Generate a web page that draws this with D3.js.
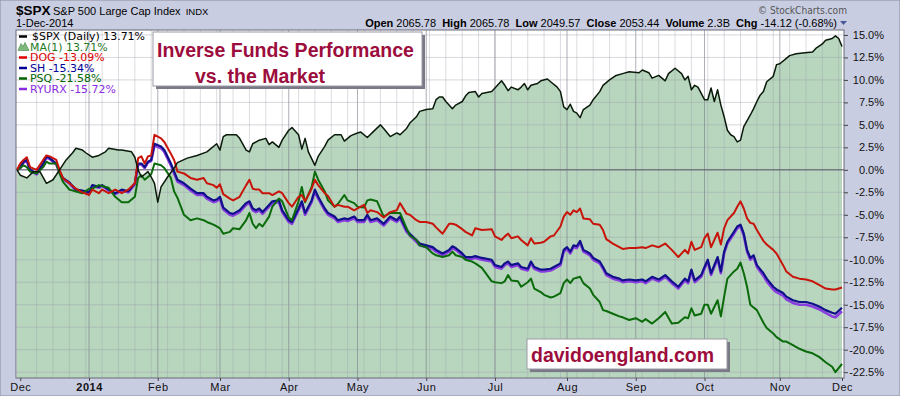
<!DOCTYPE html>
<html>
<head>
<meta charset="utf-8">
<script src="https://d3js.org/d3.v7.min.js"></script>
<style>
body { margin: 0; background: #c9cde2; }
svg { display: block; font-family: "Liberation Sans", Arial, sans-serif; }
</style>
</head>
<body>
<svg id="chart"></svg>
<script>
// x = trading day since 29-Nov-2013 close, y = % change from that close
const spx = [[0,0],[1,-0.6],[3,-0.9],[5,-0.2],[7,-0.2],[9,-1.5],[11,-1.1],[13,0],[15,1.1],[17,1.9],[18,2.4],[20,2.2],[21,1.9],[23,1.4],[25,1.6],[27,2.0],[28,2.4],[31,2.2],[32,2.2],[35,2.0],[36,1.4],[37,0],[38,-0.8],[40,-0.2],[41,-0.8],[42,-1.5],[43,-3.6],[44,-1.9],[46,-0.8],[48,0.2],[49,0.8],[52,1.3],[55,1.6],[58,2.0],[61,2.9],[62,2.2],[63,3.7],[64,3.9],[67,3.9],[68,3.5],[70,2.2],[71,2.0],[72,2.9],[74,3.3],[76,3.5],[77,2.8],[78,3.1],[80,2.5],[81,3.3],[83,4.4],[84,4.7],[86,3.9],[87,2.3],[88,3.5],[89,2.0],[91,0.5],[92,1.5],[94,2.6],[95,3.3],[97,3.9],[99,3.9],[100,3.2],[102,3.8],[104,4.1],[105,4.2],[107,3.6],[109,4.3],[111,5.0],[112,4.6],[114,3.7],[116,4.1],[117,3.9],[119,4.6],[120,5.2],[122,5.9],[123,6.5],[125,6.7],[127,6.8],[128,7.8],[129,8.1],[130,8.1],[131,7.6],[133,6.8],[134,7.2],[136,7.6],[137,8.2],[138,8.6],[140,8.7],[141,8.1],[142,8.5],[145,8.7],[146,9.1],[148,9.9],[149,9.4],[150,8.8],[151,9.2],[153,8.9],[154,9.2],[155,9.6],[156,8.9],[157,9.4],[159,9.6],[160,9.9],[162,10.1],[163,9.8],[165,9.2],[166,8.7],[167,7.0],[168,6.7],[169,7.3],[170,6.5],[171,6.3],[172,5.8],[173,6.7],[175,7.2],[176,7.8],[178,8.7],[179,9.4],[181,10.0],[183,10.5],[185,10.7],[187,10.9],[190,10.8],[191,11.1],[193,10.8],[194,10.2],[196,10.5],[198,9.9],[199,10.7],[201,11.3],[203,10.7],[204,10.0],[205,10.4],[206,8.9],[207,9.4],[208,9.2],[210,7.8],[211,7.8],[212,9.1],[213,7.6],[214,8.9],[215,7.2],[216,5.9],[217,4.4],[218,3.9],[219,3.7],[220,3.1],[221,3.3],[222,4.8],[224,6.1],[225,6.8],[226,7.6],[227,8.3],[228,8.7],[229,9.8],[231,10.4],[232,11.7],[233,11.8],[235,12.4],[236,12.7],[238,12.9],[240,13.0],[243,13.1],[244,13.5],[246,14.0],[247,14.4],[249,14.6],[250,14.9],[251,14.6],[252,13.71]];

const fundDays = [0,1,2,3,4,6,8,9,10,12,
  13,14,16,18,20,22,23,25,26,28,
  30,32,34,36,37,38,39,40,41,42,
  44,45,47,48,49,51,53,55,57,58,
  60,61,62,63,65,66,68,70,71,72,
  73,74,75,77,78,80,81,83,84,86,
  87,88,90,91,92,94,95,97,98,100,
  101,103,104,106,107,108,110,112,114,116,
  117,119,120,122,123,125,127,128,130,132,
  133,134,136,137,139,140,142,145,146,148,
  149,150,151,153,154,156,157,158,160,161,
  163,164,166,167,168,169,170,171,172,173,
  175,176,178,179,180,182,184,185,187,189,
  191,192,194,196,198,200,202,204,205,206,
  207,209,210,211,212,214,215,216,217,219,
  220,221,222,223,224,225,226,228,229,231,
  232,234,235,237,239,241,243,245,247,249,
  250,252];

const dog = [0,0.7,1.1,1.4,0.3,0.0,1.1,1.6,1.5,1.1,
  0.0,-0.9,-1.5,-2.1,-2.5,-2.8,-2.2,-2.6,-2.2,-2.6,
  -2.2,-2.6,-2.2,-1.5,1.3,1.5,0.7,1.5,1.6,3.9,
  3.5,3.1,1.8,1.1,-0.2,-0.4,-0.9,-1.1,-0.9,-1.5,
  -1.7,-2.0,-1.6,-2.7,-3.2,-3.4,-3.0,-1.7,-1.1,-2.1,
  -2.2,-2.2,-2.6,-2.6,-2.8,-2.4,-2.6,-3.7,-4.1,-3.0,
  -2.8,-3.5,-2.1,-1.1,-1.7,-2.6,-2.9,-4.1,-3.9,-4.1,
  -4.1,-4.5,-4.3,-3.9,-4.8,-4.5,-4.7,-5.3,-4.7,-4.5,
  -3.7,-4.9,-5.0,-5.6,-5.8,-5.8,-6.0,-6.4,-7.1,-6.0,
  -6.0,-6.1,-6.6,-6.9,-7.3,-6.5,-6.7,-6.6,-7.4,-7.8,
  -7.4,-7.1,-7.6,-7.4,-7.8,-8.4,-7.6,-8.2,-8.1,-8.0,
  -7.4,-7.3,-6.3,-5.2,-4.7,-5.0,-4.5,-4.7,-4.3,-5.4,
  -5.5,-6.0,-6.1,-6.7,-7.7,-8.2,-8.6,-8.8,-8.7,-8.7,
  -8.6,-8.7,-8.4,-8.6,-8.2,-8.9,-9.7,-8.9,-9.3,-8.0,
  -8.9,-8.6,-7.6,-7.1,-8.6,-7.0,-8.3,-6.5,-5.6,-4.8,
  -4.1,-3.5,-4.3,-5.4,-5.9,-6.0,-6.7,-7.9,-8.3,-8.9,
  -9.3,-10.6,-11.3,-11.9,-12.1,-12.2,-12.4,-12.8,-13.2,-13.3,
  -13.3,-13.09];

const sh = [0,0.3,0.9,1.1,0.0,-0.4,0.7,1.5,1.3,0.7,
  -0.2,-0.9,-1.4,-2.2,-2.3,-2.5,-1.7,-1.9,-1.7,-2.2,
  -2.6,-2.2,-2.4,-1.5,0.7,0.7,0.3,0.9,1.1,2.9,
  2.6,2.2,0.7,-0.2,-1.1,-1.5,-2.1,-2.6,-2.6,-3.0,
  -3.4,-3.3,-3.0,-4.2,-4.8,-4.9,-4.5,-3.7,-3.5,-4.3,
  -4.5,-4.3,-4.7,-3.9,-3.5,-3.4,-4.5,-5.6,-5.8,-4.3,
  -3.5,-4.8,-3.4,-2.2,-3.0,-4.3,-4.8,-5.2,-5.6,-5.4,
  -5.5,-5.2,-5.6,-5.6,-5.0,-5.6,-5.4,-6.0,-5.2,-5.6,
  -5.2,-6.7,-7.1,-7.8,-8.2,-8.4,-8.6,-8.9,-9.3,-8.9,
  -8.5,-8.7,-9.3,-9.7,-9.7,-9.6,-9.8,-10.0,-10.6,-10.8,
  -10.4,-10.2,-10.6,-10.4,-10.8,-11.0,-10.2,-10.8,-11.1,-11.1,
  -11.0,-10.8,-10.4,-8.9,-8.6,-9.1,-8.4,-8.5,-7.9,-8.9,
  -9.3,-9.8,-10.2,-10.8,-11.5,-11.9,-12.1,-12.3,-12.2,-12.3,
  -12.2,-12.4,-11.9,-12.2,-11.7,-12.4,-13.0,-12.1,-12.4,-11.1,
  -12.3,-11.7,-10.8,-10.0,-11.5,-9.7,-11.3,-9.1,-8.0,-6.9,
  -6.3,-6.1,-7.1,-8.9,-9.8,-9.5,-10.6,-11.5,-12.1,-13.0,
  -13.3,-13.7,-14.1,-14.5,-14.7,-14.7,-14.9,-15.2,-15.6,-15.9,
  -16.0,-15.34];

const ryurx = [0,0.2,0.8,1.0,-0.1,-0.5,0.6,1.4,1.2,0.6,
  -0.3,-1.0,-1.5,-2.3,-2.4,-2.6,-1.8,-2.0,-1.8,-2.3,
  -2.7,-2.3,-2.5,-1.6,0.6,0.6,0.2,0.8,1.0,2.7,
  2.4,2.0,0.5,-0.4,-1.3,-1.7,-2.3,-2.8,-2.8,-3.2,
  -3.6,-3.5,-3.2,-4.4,-5.0,-5.1,-4.7,-3.9,-3.7,-4.5,
  -4.7,-4.5,-4.9,-4.1,-3.7,-3.6,-4.7,-5.8,-6.0,-4.5,
  -3.7,-5.0,-3.6,-2.4,-3.2,-4.5,-5.0,-5.4,-5.8,-5.6,
  -5.7,-5.4,-5.8,-5.8,-5.2,-5.8,-5.6,-6.2,-5.4,-5.8,
  -5.4,-6.9,-7.3,-8.0,-8.4,-8.6,-8.8,-9.1,-9.5,-9.1,
  -8.7,-8.9,-9.5,-9.9,-9.9,-9.8,-10.0,-10.2,-10.8,-11.0,
  -10.6,-10.4,-10.8,-10.6,-11.0,-11.2,-10.4,-11.0,-11.3,-11.3,
  -11.2,-11.0,-10.6,-9.1,-8.8,-9.3,-8.6,-8.7,-8.1,-9.1,
  -9.5,-10.0,-10.4,-11.0,-11.7,-12.1,-12.3,-12.5,-12.4,-12.5,
  -12.4,-12.6,-12.1,-12.4,-11.9,-12.6,-13.2,-12.3,-12.6,-11.3,
  -12.5,-11.9,-11.0,-10.2,-11.7,-9.9,-11.5,-9.3,-8.2,-7.1,
  -6.5,-6.3,-7.3,-9.1,-10.0,-9.7,-10.8,-11.8,-12.4,-13.3,
  -13.6,-14.0,-14.4,-14.8,-15.0,-15.0,-15.2,-15.5,-15.9,-16.3,
  -16.4,-15.72];

const psq = [0,0.2,0.5,0.3,-0.2,-0.4,0.3,0.9,0.7,0.7,
  -0.4,-1.3,-2.2,-2.4,-2.6,-2.1,-2.1,-1.7,-1.8,-2.0,
  -3.0,-3.6,-3.6,-3.0,-0.9,-0.6,-1.1,-0.8,-0.5,0.7,
  0.5,0.2,-0.9,-2.4,-3.1,-5.0,-5.6,-5.4,-5.6,-5.8,
  -6.1,-6.3,-6.5,-7.1,-6.9,-6.5,-6.6,-5.6,-4.8,-6.0,
  -6.5,-6.0,-6.3,-5.2,-4.1,-3.2,-3.5,-5.3,-5.6,-3.5,
  -1.9,-3.6,-1.9,-0.2,-1.1,-2.4,-3.4,-4.1,-3.8,-2.8,
  -3.4,-3.7,-4.1,-4.2,-3.4,-3.3,-3.5,-5.2,-4.8,-4.8,
  -4.8,-6.5,-7.3,-7.8,-8.4,-8.6,-9.3,-9.5,-9.7,-9.5,
  -9.1,-9.5,-9.7,-10.0,-10.2,-10.4,-10.9,-12.4,-12.5,-12.6,
  -12.4,-11.7,-12.3,-12.4,-13.0,-12.5,-12.1,-13.2,-13.6,-13.9,
  -14.2,-14.1,-13.7,-12.6,-12.2,-12.6,-12.1,-12.0,-11.9,-12.6,
  -13.2,-13.9,-14.7,-15.6,-15.7,-16.0,-16.3,-16.4,-16.7,-16.5,
  -16.9,-16.6,-17.1,-16.5,-15.8,-17.1,-17.0,-16.4,-16.5,-15.4,
  -16.2,-16.0,-15.0,-15.0,-16.0,-14.5,-16.3,-14.1,-12.1,-11.3,
  -11.0,-10.3,-11.5,-13.0,-15.0,-15.3,-15.6,-17.0,-17.6,-18.2,
  -18.6,-19.1,-19.1,-19.5,-19.9,-20.2,-20.4,-20.8,-21.4,-21.9,
  -22.5,-21.58];

const monthDays = [1,22,43,62,83,104,125,146,168,189,210,233,252];
const monthLabels = ["Dec","2014","Feb","Mar","Apr","May","Jun","Jul","Aug","Sep","Oct","Nov","Dec"];
const yTicks = [15,12.5,10,7.5,5,2.5,0,-2.5,-5,-7.5,-10,-12.5,-15,-17.5,-20,-22.5];

const legendItems = [
  {label: "$SPX (Daily) 13.71%", color: "#000000", icon: "line"},
  {label: "MA(1) 13.71%", color: "#1f7a1f", icon: "mountain"},
  {label: "DOG -13.09%", color: "#e00000", icon: "line"},
  {label: "SH -15.34%", color: "#000099", icon: "line"},
  {label: "PSQ -21.58%", color: "#006400", icon: "line"},
  {label: "RYURX -15.72%", color: "#8a2be2", icon: "line"}
];

const w = 900, h = 396;
const plotL = 16, plotR = 844, plotT = 30, plotB = 378;

const svg = d3.select("#chart").attr("width", w).attr("height", h);

svg.append("rect").attr("width", w).attr("height", h)
  .attr("fill", "#c9cde2").attr("stroke", "#8a8a9a");

const x = d3.scaleLinear().domain([0, 252]).range([17, 842]);
const y = d3.scaleLinear().domain([-23.15, 15.55]).range([plotB, plotT]);

//plot background
svg.append("rect")
  .attr("x", plotL).attr("y", plotT)
  .attr("width", plotR - plotL).attr("height", plotB - plotT)
  .attr("fill", "#ffffff");

//MA(1) mountain under the index
const area = d3.area()
  .x(d => x(d[0]))
  .y0(plotB)
  .y1(d => y(d[1]));
svg.append("path").datum(spx)
  .attr("d", area)
  .attr("fill", "#b7d6bd");

//grid
const grid = svg.append("g");
grid.selectAll(".wk").data(d3.range(6, 252, 5)).enter().append("line")
  .attr("x1", d => x(d)).attr("x2", d => x(d))
  .attr("y1", plotT).attr("y2", plotB)
  .attr("stroke", "#9a9aaa").attr("stroke-opacity", 0.35);
grid.selectAll(".mo").data(monthDays.slice(1, -1)).enter().append("line")
  .attr("x1", d => x(d)).attr("x2", d => x(d))
  .attr("y1", plotT).attr("y2", plotB)
  .attr("stroke", "#7a7a88").attr("stroke-opacity", 0.6);
grid.selectAll(".hz").data(yTicks).enter().append("line")
  .attr("x1", plotL).attr("x2", plotR)
  .attr("y1", d => y(d)).attr("y2", d => y(d))
  .attr("stroke", "#9a9aaa").attr("stroke-opacity", 0.4);
svg.append("line")
  .attr("x1", plotL).attr("x2", plotR)
  .attr("y1", y(0)).attr("y2", y(0))
  .attr("stroke", "#555566").attr("stroke-width", 1);

//series lines
const line = d3.line().x(d => x(d[0])).y(d => y(d[1]));
const fundSeries = [
  {values: ryurx, color: "#8a3ee0", width: 2.6},
  {values: sh, color: "#10108a", width: 2.2},
  {values: psq, color: "#0b6b0b", width: 2},
  {values: dog, color: "#c8140a", width: 2}
];
svg.selectAll(".fund").data(fundSeries).enter().append("path")
  .attr("d", s => line(d3.zip(fundDays, s.values)))
  .attr("fill", "none")
  .attr("stroke", s => s.color)
  .attr("stroke-width", s => s.width)
  .attr("stroke-linejoin", "round");

svg.append("path").datum(spx)
  .attr("d", line)
  .attr("fill", "none")
  .attr("stroke", "#0a1a0a")
  .attr("stroke-width", 1.5)
  .attr("stroke-linejoin", "round");

//frame
svg.append("rect")
  .attr("x", plotL).attr("y", plotT)
  .attr("width", plotR - plotL).attr("height", plotB - plotT)
  .attr("fill", "none").attr("stroke", "#6a6a78");

//axes
const yAxis = svg.append("g")
  .attr("transform", `translate(${plotR},0)`)
  .call(d3.axisRight(y).tickValues(yTicks).tickSize(4).tickFormat(d => d.toFixed(1) + "%"));
yAxis.select(".domain").remove();
yAxis.selectAll("line").attr("stroke", "#444");
yAxis.selectAll("text")
  .attr("x", 40).attr("text-anchor", "end")
  .attr("font-size", 11).attr("font-family", "Liberation Sans, Arial, sans-serif")
  .attr("fill", "#111");

const xAxis = svg.append("g")
  .attr("transform", `translate(0,${plotB})`)
  .call(d3.axisBottom(x).tickValues(monthDays).tickSize(3).tickPadding(2)
    .tickFormat((d, i) => monthLabels[i]));
xAxis.select(".domain").remove();
xAxis.selectAll("line").attr("stroke", "#444");
xAxis.selectAll("text")
  .attr("font-size", 11).attr("font-family", "Liberation Sans, Arial, sans-serif")
  .attr("fill", "#111")
  .attr("letter-spacing", 0.5)
  .attr("font-weight", (d, i) => monthLabels[i] === "2014" ? "bold" : "normal");

//legend
const legend = svg.append("g").style("font-family", "'DejaVu Sans', Verdana, sans-serif").style("font-size", "10px");
const legendTexts = [];
legendItems.forEach((d, i) => {
  const ly = 40 + i * 10.5;
  if (d.icon === "line") {
    legend.append("line")
      .attr("x1", 19).attr("x2", 27).attr("y1", ly - 3.5).attr("y2", ly - 3.5)
      .attr("stroke", d.color).attr("stroke-width", 2.5);
  } else {
    legend.append("path")
      .attr("d", `M18,${ly}L21,${ly - 7}L23,${ly - 4}L25,${ly - 8}L29,${ly}Z`)
      .attr("fill", "#7fb87f").attr("stroke", "#3f8a3f").attr("stroke-width", 0.6);
  }
  legendTexts.push(legend.append("text")
    .attr("x", i === 0 ? 32 : 30).attr("y", ly)
    .attr("fill", d.color)
    .text(d.label));
});
// the original legend face is wider than ours: stretch each row horizontally
const firstW = legendTexts[0].node().getComputedTextLength();
const stretch = firstW > 0 ? 113 / firstW : 1;
legendTexts.forEach(t => {
  const tw = t.node().getComputedTextLength();
  if (tw > 0) t.attr("textLength", (tw * stretch).toFixed(1)).attr("lengthAdjust", "spacingAndGlyphs");
});

//title box
const tb = svg.append("g");
tb.append("rect").attr("x", 156).attr("y", 35).attr("width", 269).attr("height", 54).attr("fill", "#7a7a86");
tb.append("rect").attr("x", 153).attr("y", 32).attr("width", 269).attr("height", 54)
  .attr("fill", "#ffffff").attr("stroke", "#9a9aa6");
tb.append("text").attr("x", 157).attr("y", 57)
  .attr("font-size", 19.5).attr("font-weight", "bold").attr("fill", "#9c0d3d")
  .text("Inverse Funds Performance");
tb.append("text").attr("x", 195).attr("y", 83)
  .attr("font-size", 19.5).attr("font-weight", "bold").attr("fill", "#9c0d3d")
  .text("vs. the Market");

const sb = svg.append("g");
sb.append("rect").attr("x", 530).attr("y", 342).attr("width", 200).attr("height", 30).attr("fill", "#7a7a86");
sb.append("rect").attr("x", 527).attr("y", 339).attr("width", 200).attr("height", 30)
  .attr("fill", "#ffffff").attr("stroke", "#9a9aa6");
sb.append("text").attr("x", 531).attr("y", 362)
  .attr("font-size", 19.5).attr("font-weight", "bold").attr("fill", "#9c0d3d")
  .text("davidoengland.com");

//header
svg.append("text").attr("x", 16).attr("y", 15)
  .attr("font-size", 13.5).attr("font-weight", "bold").attr("fill", "#000")
  .text("$SPX");
const nameText = svg.append("text").attr("x", 53).attr("y", 14.5)
  .attr("font-size", 11).attr("fill", "#000")
  .text("S&P 500 Large Cap Index");
const nameEnd = 53 + nameText.node().getComputedTextLength();
svg.append("text").attr("x", nameEnd + 5).attr("y", 14.5)
  .attr("font-size", 9.5).attr("fill", "#000")
  .text("INDX");
svg.append("text").attr("x", 16).attr("y", 27)
  .attr("font-size", 11).attr("fill", "#000")
  .text("1-Dec-2014");

const quote = [["Open", "2065.78"], ["High", "2065.78"], ["Low", "2049.57"], ["Close", "2053.44"], ["Volume", "2.3B"], ["Chg", "-14.12 (-0.68%)"]];
const qt = svg.append("text").attr("x", 837).attr("y", 27)
  .attr("text-anchor", "end").attr("font-size", 11).attr("fill", "#000")
  .attr("xml:space", "preserve");
quote.forEach((q, i) => {
  qt.append("tspan").attr("font-weight", "bold").text((i ? "  " : "") + q[0] + " ");
  qt.append("tspan").text(q[1]);
});
svg.append("path").attr("d", "M840,21L847,21L843.5,25Z").attr("fill", "#4a5a9a");

const credit = svg.append("text").attr("x", 847).attr("y", 14)
  .attr("text-anchor", "end").attr("fill", "#555")
  .style("font-family", "'DejaVu Sans', Verdana, sans-serif").style("font-size", "11px")
  .text("\u00a9 StockCharts.com");
const cw = credit.node().getComputedTextLength();
if (cw > 0) credit.attr("textLength", 89).attr("lengthAdjust", "spacingAndGlyphs");
</script>
</body>
</html>
